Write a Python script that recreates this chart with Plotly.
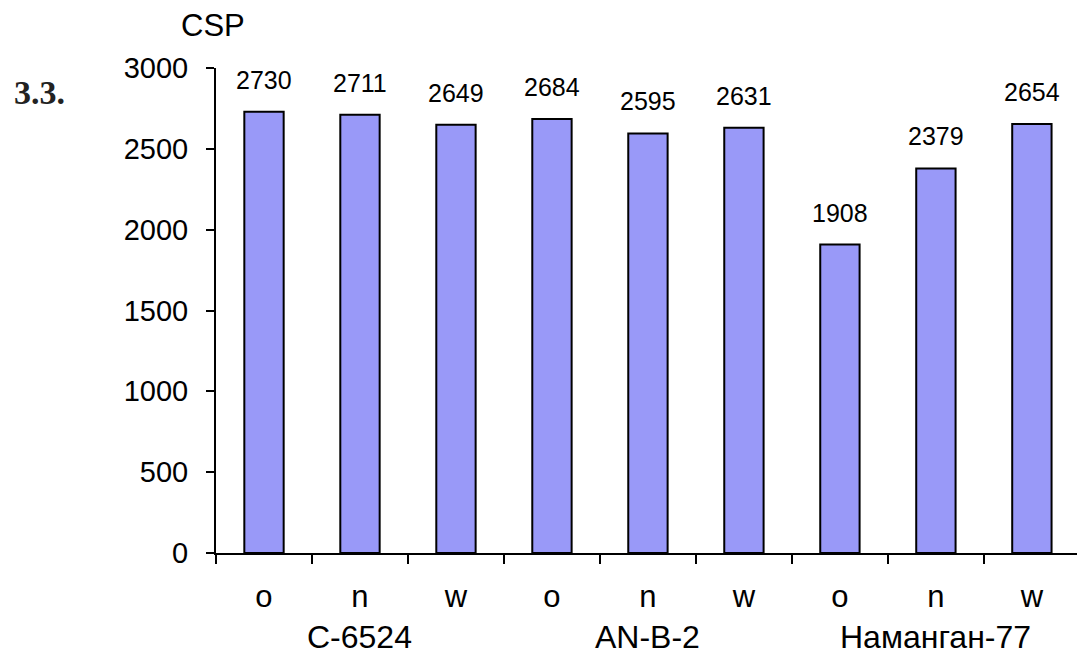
import plotly.graph_objects as go

# CSP values per variety and treatment
groups = ["C-6524", "AN-B-2", "Наманган-77"]
treatments = ["o", "n", "w"]
csp_c6524 = [2730, 2711, 2649]
csp_anb2 = [2684, 2595, 2631]
csp_namangan = [1908, 2379, 2654]

values = csp_c6524 + csp_anb2 + csp_namangan
tick_labels = treatments * len(groups)
x_pos = list(range(len(values)))
y_ticks = [0, 500, 1000, 1500, 2000, 2500, 3000]

FONT = "Liberation Sans, Arial, sans-serif"
BAR_FILL = "#9999F8"

fig = go.Figure()
fig.add_trace(go.Bar(
    x=x_pos,
    y=values,
    width=0.41,
    marker=dict(color=BAR_FILL, line=dict(color="black", width=2)),
    hoverinfo="skip",
))

# value labels above the bars
for xi, v in zip(x_pos, values):
    fig.add_annotation(
        x=xi, y=v, text=str(v), showarrow=False,
        yanchor="bottom", yshift=16,
        font=dict(family=FONT, size=25, color="black"),
    )

# variety names centred under their three bars
n_t = len(treatments)
for gi, g in enumerate(groups):
    centre = sum(x_pos[gi * n_t:(gi + 1) * n_t]) / n_t
    fig.add_annotation(
        x=centre, xref="x", y=-0.1733, yref="paper",
        text=g, showarrow=False, yanchor="middle",
        font=dict(family=FONT, size=32, color="black"),
    )

# axis title and figure number
fig.add_annotation(
    x=-0.003, xref="paper", y=1.088, yref="paper",
    text="CSP", showarrow=False, xanchor="center", yanchor="middle",
    font=dict(family=FONT, size=31, color="black"),
)
fig.add_annotation(
    x=-0.2369, xref="paper", y=0.950, yref="paper",
    text="<b>3.3.</b>", showarrow=False, xanchor="left", yanchor="middle",
    font=dict(family="Liberation Serif, Times New Roman, serif", size=34, color="#222222"),
)

fig.update_layout(
    width=1077, height=657,
    margin=dict(l=216, r=0, t=68, b=104),
    paper_bgcolor="white", plot_bgcolor="white",
    showlegend=False,
    xaxis=dict(
        range=[-0.5, 8.47],
        tickmode="array", tickvals=x_pos, ticktext=tick_labels,
        ticks="", showline=True, linecolor="black", linewidth=2,
        showgrid=False, zeroline=False,
        tickfont=dict(family=FONT, size=31, color="black"),
        ticklabelstandoff=15,
        minor=dict(
            tickvals=[p - 0.5 for p in x_pos] + [x_pos[-1] + 0.5],
            ticks="outside", ticklen=9, tickwidth=2, tickcolor="black",
            showgrid=False,
        ),
    ),
    yaxis=dict(
        range=[0, 3000],
        tickmode="array", tickvals=y_ticks,
        ticks="outside", ticklen=8, tickwidth=2, tickcolor="black",
        showline=True, linecolor="black", linewidth=2,
        showgrid=False, zeroline=False,
        tickfont=dict(family=FONT, size=29, color="black"),
        ticklabelstandoff=12,
    ),
)

fig.write_html("out.html")
